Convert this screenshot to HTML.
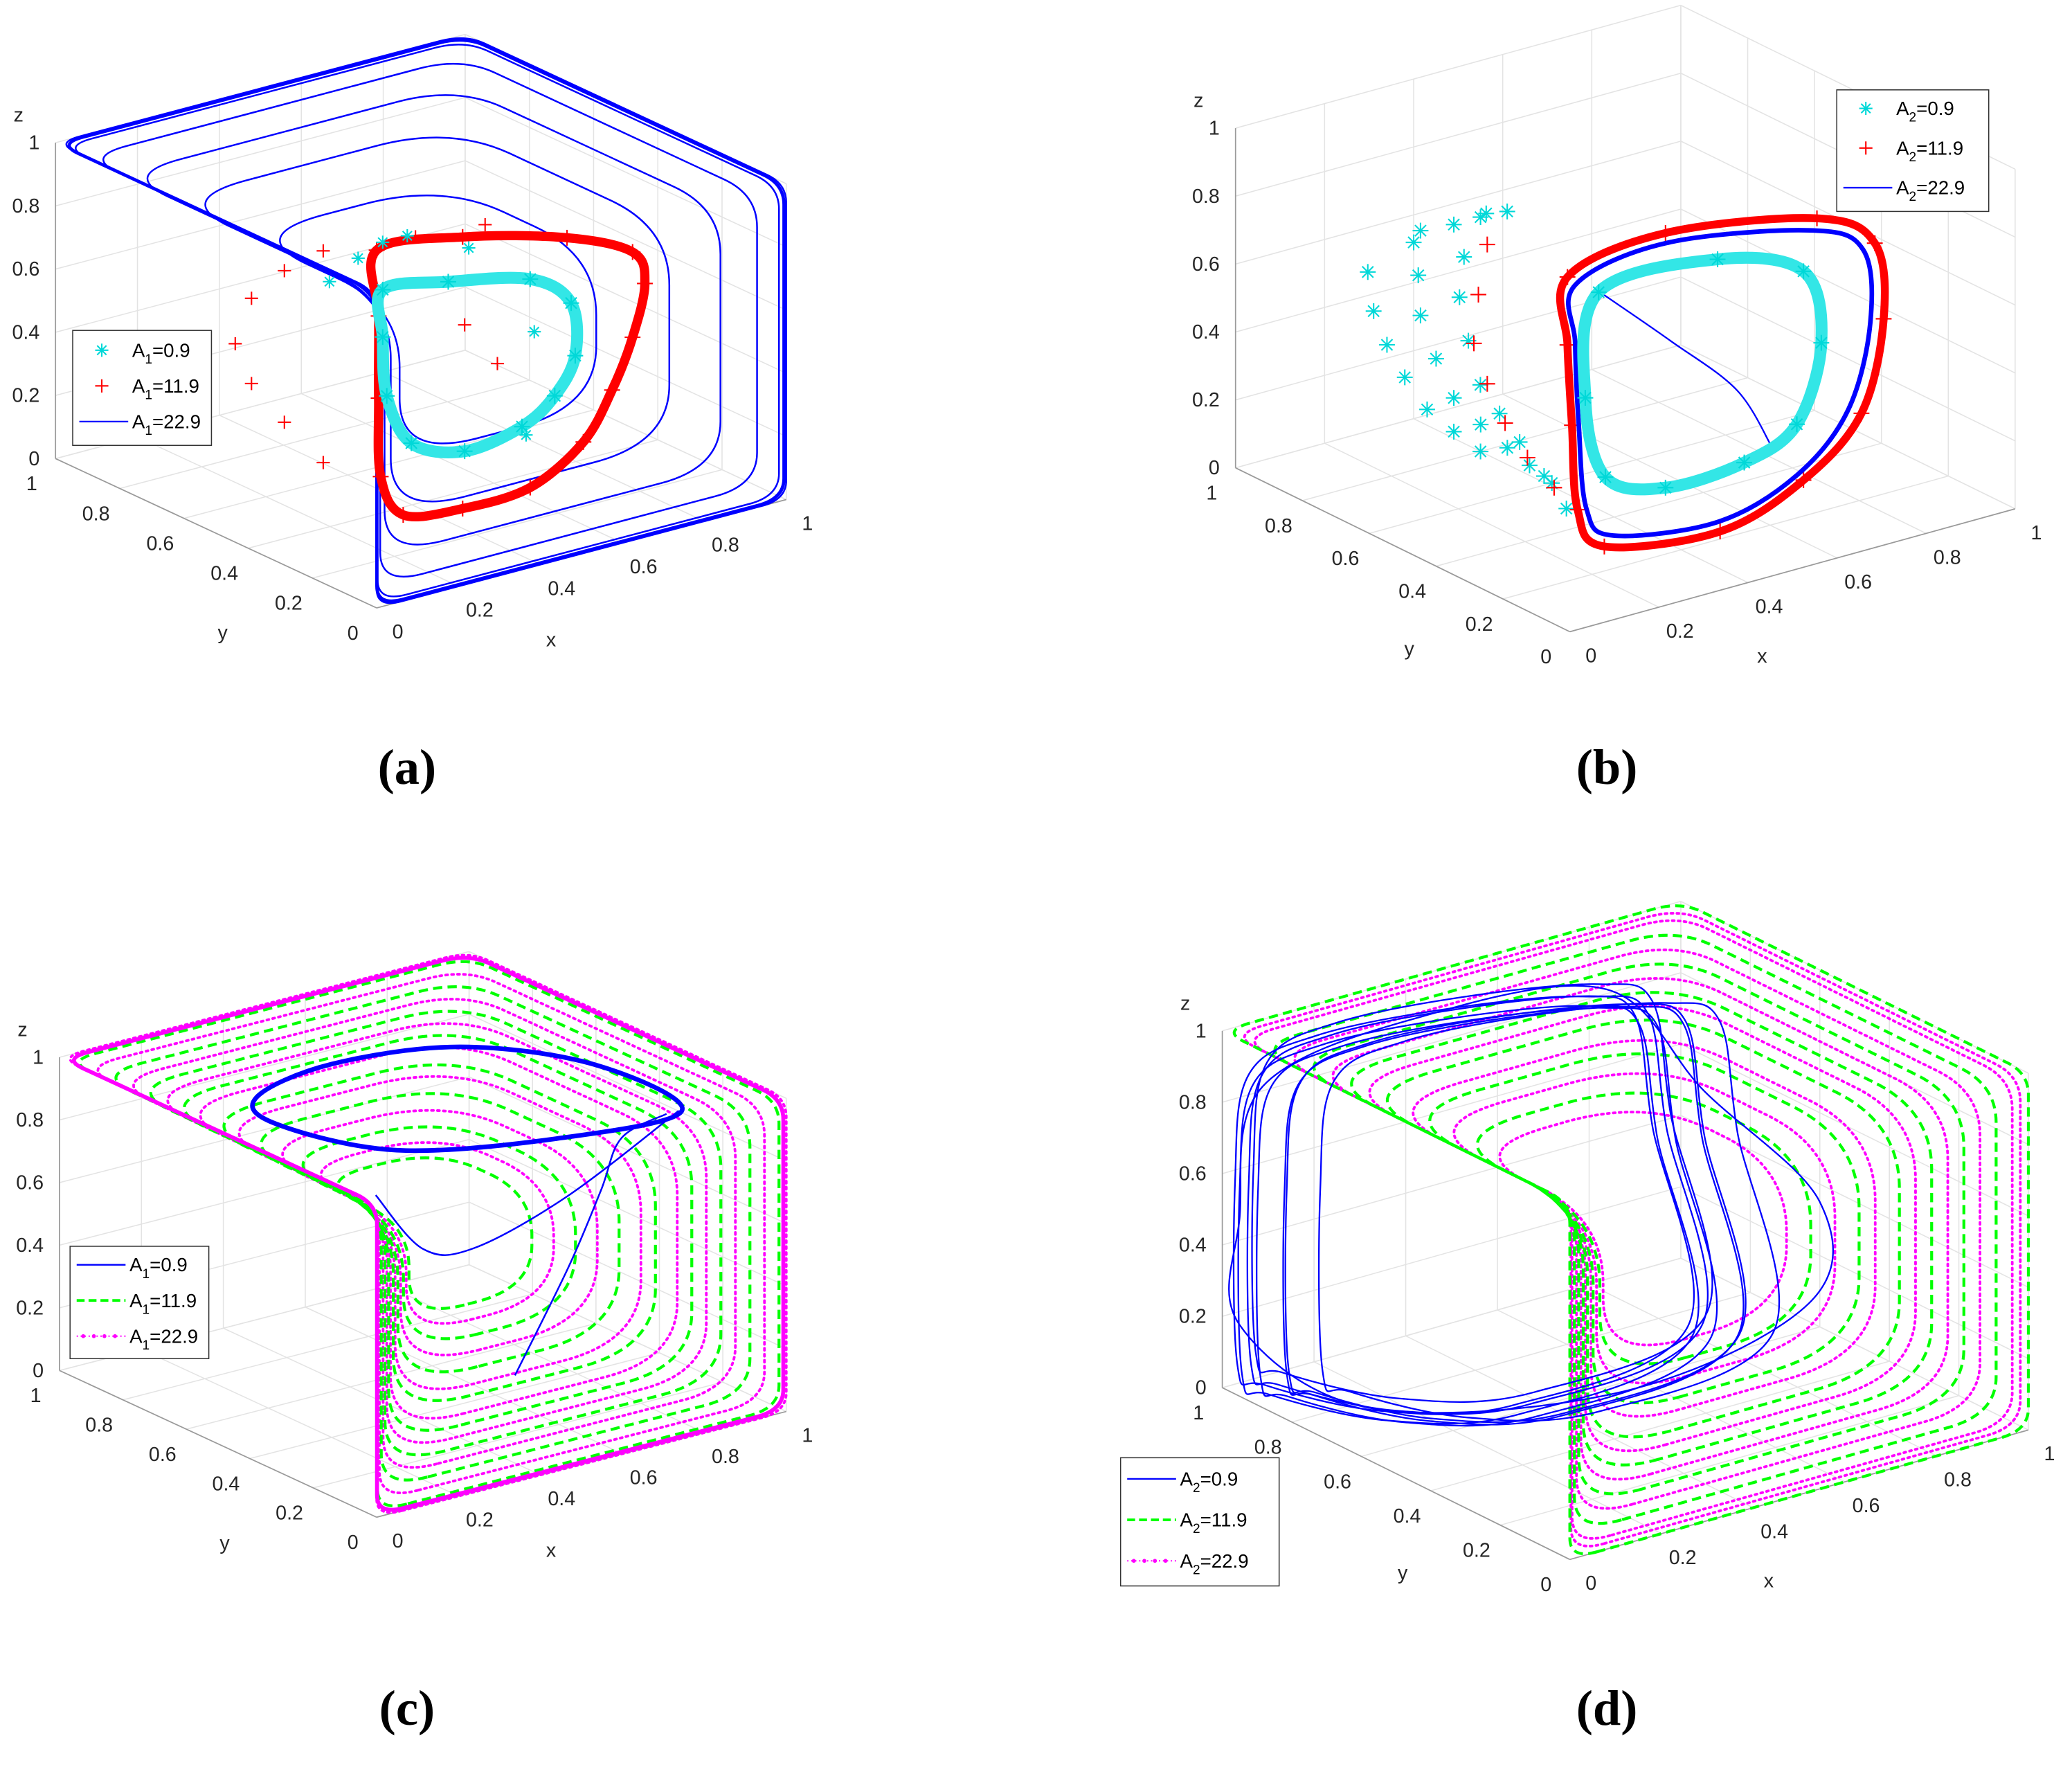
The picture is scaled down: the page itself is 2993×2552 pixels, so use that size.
<!DOCTYPE html>
<html><head><meta charset="utf-8"><style>
html,body{margin:0;padding:0;background:#fff;}
svg{display:block;}
text{font-family:"Liberation Sans",sans-serif;}
</style></head><body>
<svg id="fig" xmlns="http://www.w3.org/2000/svg" width="2993" height="2552" viewBox="0 0 1568 1337">
<rect x="0" y="0" width="1568" height="1337" fill="#fff"/>
</svg>
<script>
// ---------- data ----------
const tickValues = [0, 0.2, 0.4, 0.6, 0.8, 1];
const tickLabels = ["0", "0.2", "0.4", "0.6", "0.8", "1"];
const cycleCorners = [[0,0,0],[0,0,1],[0,1,1],[1,1,1],[1,0,1],[1,0,0]];
// panel a
const aBlueInsets = [0, 0.01, 0.04, 0.09, 0.16, 0.26];
const aCyanLoop = [[.25,.3,.78],[.41,.3,.75],[.61,.3,.69],[.71,.3,.58],[.72,.3,.41],[.67,.3,.30],[.59,.3,.23],[.45,.3,.20],[.32,.3,.27],[.26,.3,.44],[.25,.3,.63]];
const aCyanScatter = [[.12,.3,.85],[.19,.3,.9],[.25,.3,.93],[.31,.3,.93],[.46,.3,.84],[.62,.3,.52],[.60,.3,.2]];
const aRedLoop = [[.235,.3,.91],[.445,.3,.88],[.70,.3,.79],[.86,.3,.69],[.89,.3,.58],[.86,.3,.42],[.81,.3,.27],[.74,.3,.13],[.61,.3,.03],[.445,.3,.02],[.30,.3,.05],[.245,.3,.19],[.24,.3,.44],[.24,.3,.70]];
const aRedArc = [[.34,.6,.73],[.245,.6,.70],[.165,.6,.64],[.125,.6,.51],[.165,.6,.37],[.245,.6,.22],[.34,.6,.06]];
const aRedScatter = [[.45,.3,.6],[.53,.3,.45],[.33,.3,.92],[.5,.3,.9]];
// panel b
const bBlueLoop = [[.237,.3,.79],[.44,.3,.84],[.765,.3,.76],[.884,.3,.66],[.90,.3,.44],[.85,.3,.20],[.735,.3,.05],[.445,.15,.09],[.21,.15,.135],[.15,.15,.235],[.245,.3,.38],[.237,.3,.62]];
const bBlueInner = [[.3,.3,.74],[.45,.3,.55],[.6,.3,.35],[.68,.3,.15]];
const bRedLoop = [[.22,.3,.82],[.44,.3,.87],[.78,.3,.79],[.91,.3,.67],[.93,.3,.44],[.88,.3,.18],[.75,.3,.03],[.45,.15,.06],[.19,.15,.11],[.13,.15,.24],[.23,.3,.38],[.22,.3,.62]];
const bRedArc = [[.19,.5,.83],[.17,.5,.69],[.16,.5,.55],[.19,.5,.42],[.23,.5,.29],[.28,.5,.17],[.34,.5,.06]];
const bCyanLoop = [[.29,.3,.75],[.557,.3,.75],[.75,.3,.645],[.79,.3,.42],[.735,.3,.20],[.617,.3,.13],[.44,.3,.12],[.305,.3,.20],[.26,.3,.45]];
const bCyanArc1 = [[.46,.8,.685],[.40,.8,.69],[.34,.8,.69],[.25,.8,.67],[.147,.8,.62],[.16,.8,.50],[.19,.8,.39],[.23,.8,.28],[.28,.8,.167],[.34,.8,.08],[.40,.8,0]];
const bCyanArc2 = [[.115,.6,.85],[.11,.6,.72],[.115,.6,.60],[.15,.6,.46],[.19,.6,.33],[.25,.6,.23],[.31,.6,.14],[.36,.6,.07],[.41,.6,0]];
const bCyanArc3 = [[.15,.45,.96],[.10,.45,.85],[.09,.45,.735],[.11,.45,.60],[.137,.45,.46],[.18,.45,.36],[.225,.45,.26],[.28,.45,.14],[.33,.45,.026]];
// panel c
const cGreenInsets = [0.01, 0.05, 0.09, 0.13, 0.18, 0.23, 0.29, 0.35];
const cMagentaInsets = [0, 0.03, 0.07, 0.11, 0.15, 0.2, 0.26, 0.32];
const cBlueLoop = [[.28,.74,.9],[.51,.80,.9],[.77,.73,.9],[.92,.50,.9],[.90,.20,.9],[.61,.22,.9],[.32,.35,.9],[.22,.60,.9]];
const cBlueTrans1 = [[.57,.3,.12],[.70,.3,.42],[.78,.3,.64],[.83,.3,.79],[.94,.3,.83]];
const cBlueTrans2 = [[.23,.3,.81],[.345,.3,.60],[.47,.3,.56],[.70,.3,.65],[.97,.3,.83]];
// panel d
const dGreenInsets = [0, 0.04, 0.08, 0.12, 0.16, 0.21, 0.27];
const dMagentaInsets = [0.01, 0.02, 0.06, 0.1, 0.14, 0.19, 0.24, 0.3];
const dBlueBase = [[.005,.95,.06],[0,.95,.58],[.03,.95,.865],[.18,.95,.92],[.47,.95,.89],[.755,.95,.82],[.87,.95,.73],[.91,.95,.4],[.70,.57,.1],[.29,.525,.05],[.087,.64,.05],[.026,.9,.02]];
const dBlueShifts = [[0,0,0],[0.02,0,0.02],[0.04,0,-0.02],[-0.01,0,0.03],[0.06,-0.05,0],[0.1,-0.1,0.02],[0.03,0,0.05],[0.08,-0.03,-0.01]];
const dBlueWide = [[0,.95,.5],[.05,.95,.85],[.4,.95,.92],[.8,.95,.85],[.9,.8,.6],[1.0,.6,.35],[.9,.5,.15],[.5,.5,.05],[.1,.7,.05],[0,.95,.2]];

// ---------- geometry ----------
const panels = {
  a:{O:[285,460],ex:[310,-82],ey:[-243,-113],ez:[0,-239],label:[308,593]},
  b:{O:[1188,478],ex:[337,-93],ey:[-253,-124],ez:[0,-257],label:[1216,593]},
  c:{O:[285,1148],ex:[310,-80],ey:[-240,-111],ez:[0,-237],label:[308,1305]},
  d:{O:[1188,1180],ex:[347,-98],ey:[-263,-130],ez:[0,-270],label:[1216,1305]}
};
const NS="http://www.w3.org/2000/svg";
const svg=document.getElementById('fig');
function mk(tag,attrs,parent){const e=document.createElementNS(NS,tag);for(const k in attrs)e.setAttribute(k,attrs[k]);(parent||svg).appendChild(e);return e;}
function proj(P,p){return [P.O[0]+p[0]*P.ex[0]+p[1]*P.ey[0]+p[2]*P.ez[0], P.O[1]+p[0]*P.ex[1]+p[1]*P.ey[1]+p[2]*P.ez[1]];}
function f(n){return n.toFixed(1);}
function lineP(P,a,b,attrs,parent){const A=proj(P,a),B=proj(P,b);return mk('line',Object.assign({x1:f(A[0]),y1:f(A[1]),x2:f(B[0]),y2:f(B[1])},attrs),parent);}
function smoothPath(pts,closed){
  const n=pts.length;let d='M'+f(pts[0][0])+' '+f(pts[0][1]);
  const get=i=>closed?pts[(i+n)%n]:pts[Math.max(0,Math.min(n-1,i))];
  const segs=closed?n:n-1;
  for(let i=0;i<segs;i++){const p0=get(i-1),p1=get(i),p2=get(i+1),p3=get(i+2);
    const c1=[p1[0]+(p2[0]-p0[0])/6,p1[1]+(p2[1]-p0[1])/6],c2=[p2[0]-(p3[0]-p1[0])/6,p2[1]-(p3[1]-p1[1])/6];
    d+=' C'+f(c1[0])+' '+f(c1[1])+' '+f(c2[0])+' '+f(c2[1])+' '+f(p2[0])+' '+f(p2[1]);}
  return d+(closed?' Z':'');
}
function roundedLoop(P,inset){
  const pts=cycleCorners.map(c=>proj(P,c.map(v=>v===0?inset:1-inset)));
  const r=Math.min(0.45,0.06+inset*1.3);const n=pts.length;let d='';
  for(let i=0;i<n;i++){const p=pts[(i-1+n)%n],c=pts[i],q=pts[(i+1)%n];
    const a=[c[0]+(p[0]-c[0])*r,c[1]+(p[1]-c[1])*r],b=[c[0]+(q[0]-c[0])*r,c[1]+(q[1]-c[1])*r];
    d+=(i===0?'M':' L')+f(a[0])+' '+f(a[1])+' Q'+f(c[0])+' '+f(c[1])+' '+f(b[0])+' '+f(b[1]);}
  return d+' Z';
}
function star(g,x,y,s,col){
  [[s,0],[0,s],[s*.7,s*.7],[s*.7,-s*.7]].forEach(v=>mk('line',{x1:f(x-v[0]),y1:f(y-v[1]),x2:f(x+v[0]),y2:f(y+v[1]),stroke:col,'stroke-width':1.1},g));
}
function plus(g,x,y,s,col){
  [[s,0],[0,s]].forEach(v=>mk('line',{x1:f(x-v[0]),y1:f(y-v[1]),x2:f(x+v[0]),y2:f(y+v[1]),stroke:col,'stroke-width':1.1},g));
}

function drawAxes(P,key){
  const g=mk('g',{});
  
  
  const gs={stroke:'#e3e3e3','stroke-width':0.8};
  tickValues.forEach(t=>{
    lineP(P,[t,0,0],[t,1,0],gs,g); lineP(P,[0,t,0],[1,t,0],gs,g);
    lineP(P,[t,1,0],[t,1,1],gs,g); lineP(P,[0,1,t],[1,1,t],gs,g);
    lineP(P,[1,t,0],[1,t,1],gs,g); lineP(P,[1,0,t],[1,1,t],gs,g);
  });
  const as={stroke:'#9a9a9a','stroke-width':0.9};
  lineP(P,[0,0,0],[1,0,0],as,g); lineP(P,[0,0,0],[0,1,0],as,g); lineP(P,[0,1,0],[0,1,1],as,g);
  const ts={'font-size':15,fill:'#262626'};
  tickValues.forEach((t,i)=>{
    let p=proj(P,[0,1,t]);
    const tz=mk('text',Object.assign({x:f(p[0]-12),y:f(p[1]+5),'text-anchor':'end'},ts),g);tz.textContent=tickLabels[i];
    
    
    p=proj(P,[0,t,0]);
    const ty=mk('text',Object.assign({x:f(p[0]-18),y:f(p[1]+24),'text-anchor':'middle'},ts),g);ty.textContent=tickLabels[i];
    
    
    p=proj(P,[t,0,0]);
    const tx=mk('text',Object.assign({x:f(p[0]+16),y:f(p[1]+23),'text-anchor':'middle'},ts),g);tx.textContent=tickLabels[i];
    
    
  });
  let p=proj(P,[0,1,1]);
  const zt=mk('text',Object.assign({x:f(p[0]-28),y:f(p[1]-16),'text-anchor':'middle'},ts),g);zt.textContent='z';
  
  
  p=proj(P,[0,.5,0]);
  const yt=mk('text',Object.assign({x:f(p[0]+5),y:f(p[1]+80),'text-anchor':'middle'},ts),g);yt.textContent='y';
  
  
  p=proj(P,[.5,0,0]);
  const xt=mk('text',Object.assign({x:f(p[0]-23),y:f(p[1]+70),'text-anchor':'middle'},ts),g);xt.textContent='x';
  
  
  const lb=mk('text',{x:P.label[0],y:P.label[1],'text-anchor':'middle',style:'font-family:"Liberation Serif",serif;font-size:38px;font-weight:bold',fill:'#000'});
  lb.textContent='('+key+')';
  
  
}
function curve(P,pts,closed,style,name){
  const sp=pts.map(p=>proj(P,p));
  const e=mk('path',Object.assign({d:smoothPath(sp,closed),fill:'none'},style));
  
  
  return sp;
}
function markers(P,pts,type,col,s,name){
  const g=mk('g',{});
  
  
  pts.forEach(p=>{const q=proj(P,p);(type==='star'?star:plus)(g,q[0],q[1],s,col);});
}
function loops(P,insets,style,name){
  insets.forEach(e=>{const el=mk('path',Object.assign({d:roundedLoop(P,e),fill:'none'},style));
    
    });
}
function legend(x,y,w,h,rows,sub,entries){
  const g=mk('g',{});
  
  
  mk('rect',{x:x,y:y,width:w,height:h,fill:'#fff',stroke:'#333','stroke-width':0.8},g);
  entries.forEach((en,i)=>{
    const cy=rows[i];
    const it=mk('g',{},g);
    
    
    if(en.type==='star') star(it,x+22,cy,5,en.col);
    else if(en.type==='plus') plus(it,x+22,cy,5,en.col);
    else{
      mk('line',Object.assign({x1:x+5,y1:cy,x2:x+42,y2:cy,stroke:en.col},en.style),it);
      if(en.dots)[x+10,x+18,x+26,x+34].forEach(dx=>mk('circle',{cx:dx,cy:cy,r:1.5,fill:en.col},it));
    }
    const t=mk('text',{x:x+45,y:cy+5,'font-size':14.5,fill:'#000'},it);
    t.innerHTML='A<tspan font-size="10" dy="5">'+sub+'</tspan><tspan dy="-5">='+en.label+'</tspan>';
  });
}

// ---------- panel a ----------
(function(){const P=panels.a;drawAxes(P,'a');
  loops(P,aBlueInsets,{stroke:'#0000ff','stroke-width':1.3},'a-blue-loop');
  loops(P,[0.003],{stroke:'#0000ff','stroke-width':2.5},'a-blue-outer');
  markers(P,aRedArc,'plus','#ff0000',5,'a-red-arc-markers');
  curve(P,aRedLoop,true,{stroke:'#ff0000','stroke-width':7},'a-red-loop');
  markers(P,aRedLoop,'plus','#ff0000',6,'a-red-markers');
  markers(P,aRedScatter,'plus','#ff0000',5,'a-red-scatter');
  curve(P,aCyanLoop,true,{stroke:'#33e6e6','stroke-width':9},'a-cyan-loop');
  markers(P,aCyanLoop,'star','#00d8d8',6,'a-cyan-markers');
  markers(P,aCyanScatter,'star','#00d8d8',5,'a-cyan-scatter');
  legend(55,250,105,87,[265,292,319],'1',[{type:'star',col:'#00d8d8',label:'0.9'},{type:'plus',col:'#ff0000',label:'11.9'},{type:'line',col:'#0000ff',style:{'stroke-width':1.2},label:'22.9'}]);
})();
// ---------- panel b ----------
(function(){const P=panels.b;drawAxes(P,'b');
  markers(P,bCyanArc1,'star','#00d8d8',6,'b-cyan-arc1-markers');
  markers(P,bCyanArc2,'star','#00d8d8',6,'b-cyan-arc2-markers');
  markers(P,bCyanArc3,'star','#00d8d8',6,'b-cyan-arc3-markers');
  markers(P,bRedArc,'plus','#ff0000',6,'b-red-arc-markers');
  curve(P,bRedLoop,true,{stroke:'#ff0000','stroke-width':6},'b-red-loop');
  markers(P,bRedLoop,'plus','#ff0000',6,'b-red-markers');
  curve(P,bBlueLoop,true,{stroke:'#0000ff','stroke-width':3.5},'b-blue-loop');
  curve(P,bBlueInner,false,{stroke:'#0000ff','stroke-width':1.2},'b-blue-inner');
  curve(P,bCyanLoop,true,{stroke:'#33e6e6','stroke-width':9},'b-cyan-loop');
  markers(P,bCyanLoop,'star','#00d8d8',6,'b-cyan-markers');
  legend(1390,68,115,92,[82,112,142],'2',[{type:'star',col:'#00d8d8',label:'0.9'},{type:'plus',col:'#ff0000',label:'11.9'},{type:'line',col:'#0000ff',style:{'stroke-width':1.2},label:'22.9'}]);
})();
// ---------- panel c ----------
(function(){const P=panels.c;drawAxes(P,'c');
  loops(P,cMagentaInsets,{stroke:'#ff00ff','stroke-width':2,'stroke-dasharray':'1.5 3','stroke-linecap':'round'},'c-magenta-loop');
  loops(P,cGreenInsets,{stroke:'#00ff00','stroke-width':2.2,'stroke-dasharray':'7 4'},'c-green-loop');
  loops(P,[0.004],{stroke:'#ff00ff','stroke-width':3},'c-magenta-outer');
  curve(P,cBlueTrans1,false,{stroke:'#0000ff','stroke-width':1.3},'c-blue-transient1');
  curve(P,cBlueTrans2,false,{stroke:'#0000ff','stroke-width':1.3},'c-blue-transient2');
  curve(P,cBlueLoop,true,{stroke:'#0000ff','stroke-width':3.5},'c-blue-loop');
  legend(53,943,105,85,[957,984,1011],'1',[{type:'line',col:'#0000ff',style:{'stroke-width':1.2},label:'0.9'},{type:'line',col:'#00ff00',style:{'stroke-width':2,'stroke-dasharray':'6 3'},label:'11.9'},{type:'line',col:'#ff00ff',style:{'stroke-width':1,'stroke-dasharray':'1 2'},dots:true,label:'22.9'}]);
})();
// ---------- panel d ----------
(function(){const P=panels.d;drawAxes(P,'d');
  loops(P,dMagentaInsets,{stroke:'#ff00ff','stroke-width':2,'stroke-dasharray':'1.5 3','stroke-linecap':'round'},'d-magenta-loop');
  loops(P,dGreenInsets,{stroke:'#00ff00','stroke-width':2.2,'stroke-dasharray':'7 4'},'d-green-loop');
  dBlueShifts.forEach(s=>{curve(P,dBlueBase.map(p=>[p[0]+s[0],p[1]+s[1],p[2]+s[2]]),true,{stroke:'#0000ff','stroke-width':1.2},'d-blue-loop');});
  curve(P,dBlueWide,true,{stroke:'#0000ff','stroke-width':1.2},'d-blue-wide-loop');
  legend(848,1103,120,97,[1119,1150,1181],'2',[{type:'line',col:'#0000ff',style:{'stroke-width':1.2},label:'0.9'},{type:'line',col:'#00ff00',style:{'stroke-width':2,'stroke-dasharray':'6 3'},label:'11.9'},{type:'line',col:'#ff00ff',style:{'stroke-width':1,'stroke-dasharray':'1 2'},dots:true,label:'22.9'}]);
})();
</script>
</body></html>
